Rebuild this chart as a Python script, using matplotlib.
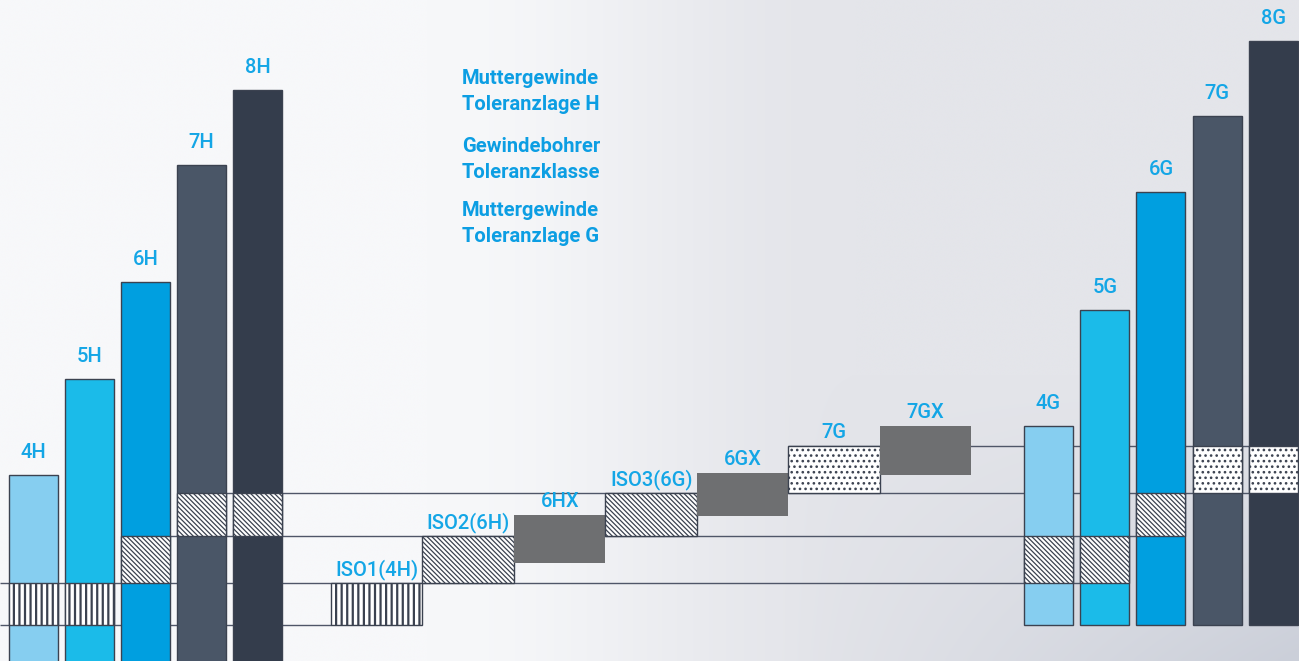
import numpy as np
import matplotlib
matplotlib.use("Agg")
import matplotlib.pyplot as plt
from matplotlib.patches import Rectangle

# ---- data -------------------------------------------------------------
# Tolerance positions (deviation units, zero = basic line of the H zones)
h_labels = ["4H", "5H", "6H", "7H", "8H"]
h_tops = [108, 204, 301, 418, 493]
h_bottom = -90

g_labels = ["4G", "5G", "6G", "7G", "8G"]
g_tops = [157, 273, 391, 467, 542]
g_bottom = -42

# tap tolerance bands shared by nut zones and tap classes
band_edges = [-42, 0, 47, 90, 137]
h_band = [0, 0, 1, 2, 2]          # band of the tap used for each H zone
g_band = [1, 1, 2, 3, 3]          # band of the tap used for each G zone

tap_labels = ["ISO1(4H)", "ISO2(6H)", "6HX", "ISO3(6G)", "6GX", "7G", "7GX"]
tap_low = [-42, 0, 20, 47, 67, 90, 108]
tap_high = [0, 47, 68, 90, 110, 137, 157]

legend_lines = [["Muttergewinde", "Toleranzlage H"],
                ["Gewindebohrer", "Toleranzklasse"],
                ["Muttergewinde", "Toleranzlage G"]]

# ---- styles -----------------------------------------------------------
zone_colors = ["#86cef0", "#1bbbe9", "#009fe0", "#4a5667", "#343d4c"]
diag = "\\" * 7
band_hatch = ["|||", diag, diag, "..."]
band_hatch_lw = [1.6, 0.9, 0.9, 1.1]
tap_band = [0, 1, None, 2, None, 3, None]
x_gray = "#6e6f71"
edge = "#3b4250"
line_col = "#4f5668"
label_col = "#14a6e6"
legend_col = "#0c9ee3"

plt.rcParams["font.family"] = ["Roboto", "DejaVu Sans"]

W, H = 1299, 661
fig = plt.figure(figsize=(W / 100, H / 100), dpi=100)
ax = fig.add_axes([0, 0, 1, 1])
y_top, y_bot = 583, -78
ax.set_xlim(0, W)
ax.set_ylim(y_bot, y_top)
ax.axis("off")

# soft grey backdrop, brighter on the left
xx, yy = np.meshgrid(np.linspace(0, 1, 400), np.linspace(0, 1, 200))
px = xx * W
py = yy * H
t = np.clip((px - 430) / 420, 0, 1)
t = t * t * (3 - 2 * t)
s = np.clip((px - 780) / 520, 0, 1) * np.clip((py - 380) / 281, 0, 1)
base = np.array([247, 248, 250]) / 255
mid = np.array([228, 229, 234]) / 255
dark = np.array([203, 207, 217]) / 255
img = base[None, None, :] * (1 - t[..., None]) + mid[None, None, :] * t[..., None]
img = img * (1 - s[..., None]) + dark[None, None, :] * s[..., None]
ax.imshow(img, extent=[0, W, y_bot, y_top], origin="upper", aspect="auto",
          zorder=0, interpolation="bicubic")

# ---- layout -----------------------------------------------------------
bar_w = 49
left_x = [9 + 56 * i for i in range(5)]
right_x = [1024 + 56.25 * i for i in range(5)]
tap_w = 91.5
tap_x = [331 + tap_w * i for i in range(7)]

px_per_pt = 100 / 72


def label(x, y, text, off_px):
    ax.annotate(text, (x, y), xytext=(0, off_px / px_per_pt),
                textcoords="offset points", ha="center", va="baseline",
                color=label_col, fontsize=14.5, fontweight="medium", zorder=6)


def hatched_box(x, w, band):
    lo, hi = band_edges[band], band_edges[band + 1]
    plt.rcParams["hatch.linewidth"] = band_hatch_lw[band]
    ax.add_patch(Rectangle((x, lo), w, hi - lo, facecolor="white",
                           edgecolor=edge, hatch=band_hatch[band], lw=1.0,
                           zorder=3))


# guide lines at the band boundaries
guides = [
    (band_edges[0], 0, tap_x[0]),
    (band_edges[1], 0, right_x[1] + bar_w),
    (band_edges[2], left_x[2], right_x[2] + bar_w),
    (band_edges[3], left_x[3], W),
    (band_edges[4], tap_x[5], W),
]
for lvl, x0, x1 in guides:
    ax.plot([x0, x1], [lvl, lvl], color=line_col, lw=1.0, zorder=1,
            solid_capstyle="butt")


def zone_bar(x, bottom, top, color, band):
    ax.add_patch(Rectangle((x, bottom), bar_w, top - bottom, facecolor=color,
                           edgecolor=edge, lw=1.0, zorder=2))
    hatched_box(x, bar_w, band)


# nut thread zones H
for i in range(5):
    zone_bar(left_x[i], h_bottom, h_tops[i], zone_colors[i], h_band[i])
    label(left_x[i] + bar_w / 2, h_tops[i], h_labels[i], 17)

# nut thread zones G
for i in range(5):
    zone_bar(right_x[i], g_bottom, g_tops[i], zone_colors[i], g_band[i])
    label(right_x[i] + bar_w / 2, g_tops[i], g_labels[i], 17)

# tap tolerance classes
for i in range(7):
    lo, hi = tap_low[i], tap_high[i]
    if tap_band[i] is None:
        ax.add_patch(Rectangle((tap_x[i], lo), tap_w, hi - lo,
                               facecolor=x_gray, edgecolor="none", zorder=3))
    else:
        hatched_box(tap_x[i], tap_w, tap_band[i])
    label(tap_x[i] + tap_w / 2, hi, tap_labels[i], 8)

# legend text block
y_px = [78, 105, 146, 172, 211, 237]
k = 0
for group in legend_lines:
    for line in group:
        fig.text(462 / W, 1 - y_px[k] / H, line, ha="left", va="center",
                 color=legend_col, fontsize=14.5, fontweight="bold")
        k += 1

fig.savefig("out.png", dpi=100)
